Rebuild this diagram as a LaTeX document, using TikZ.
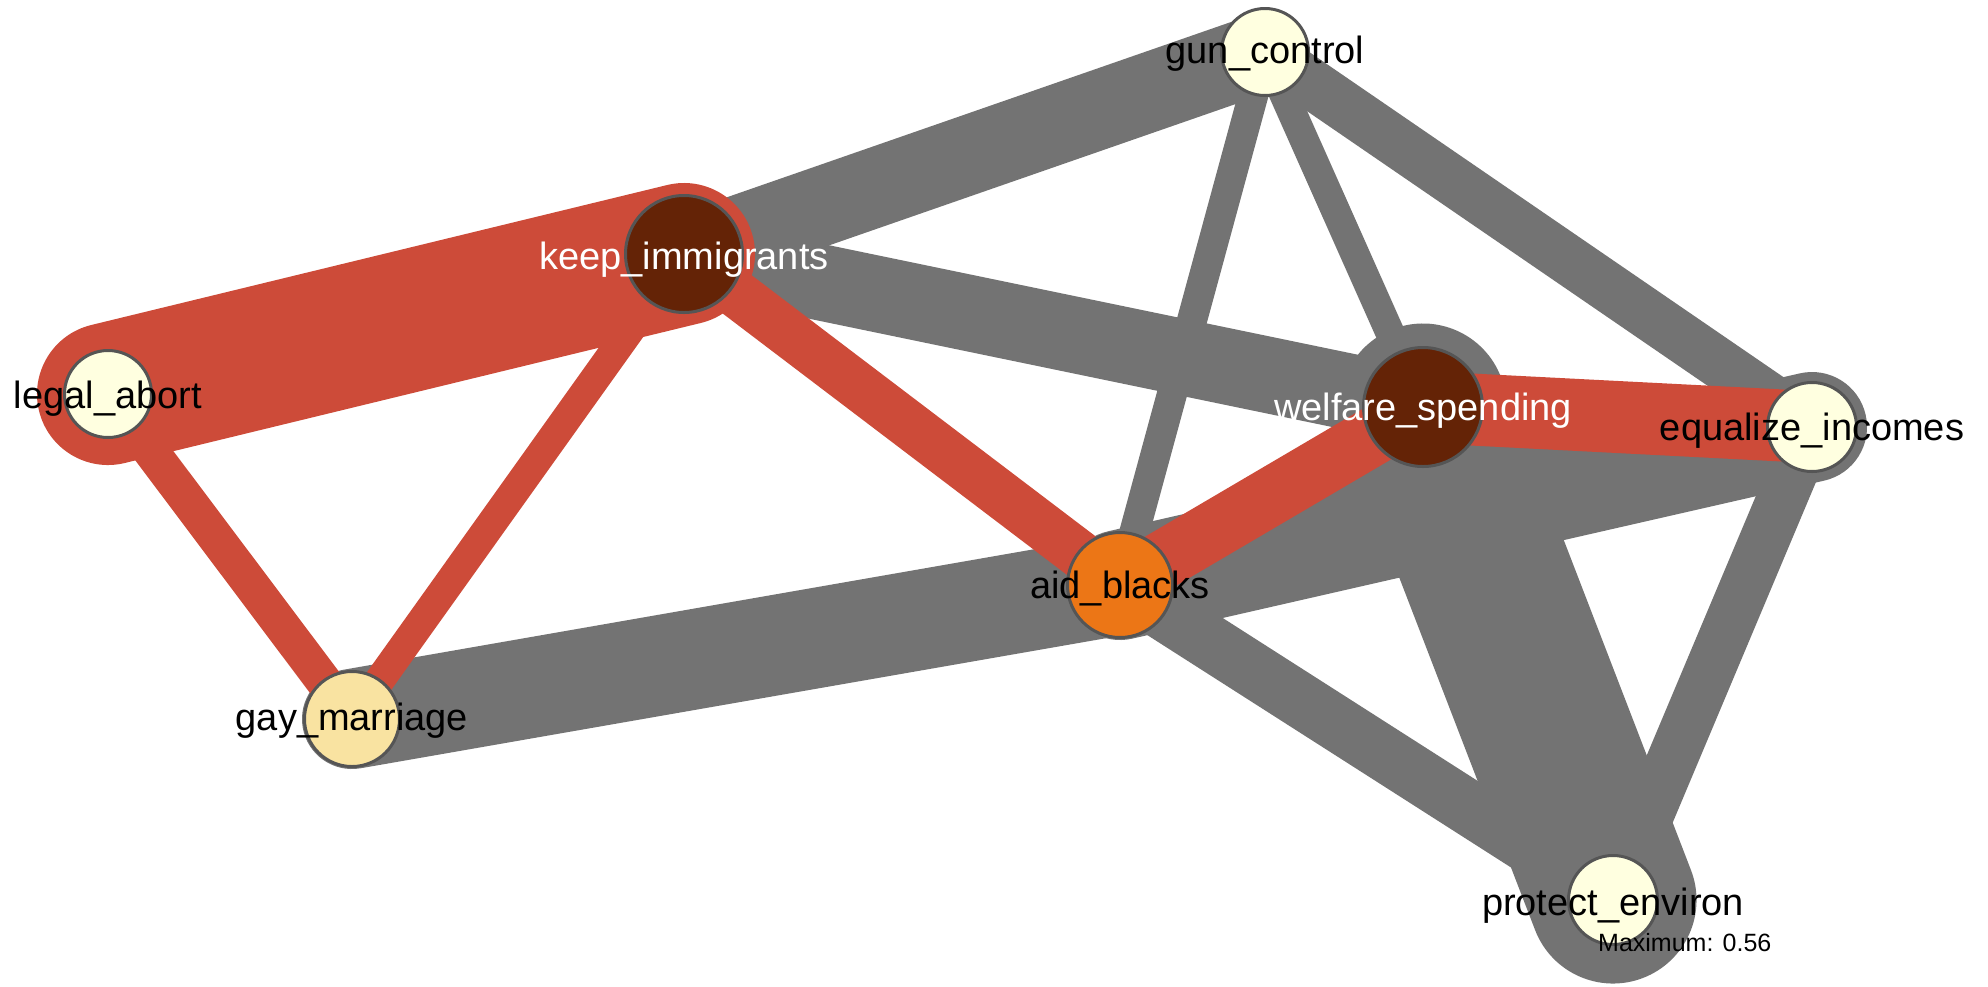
\documentclass[tikz,border=0pt]{standalone}
\usepackage{fontspec}
\setmainfont{Liberation Sans}
\pgfdeclarelayer{edgelayer}
\pgfsetlayers{edgelayer,main}

\definecolor{posedge}{HTML}{CD4B39}
\definecolor{negedge}{HTML}{737373}
\definecolor{nodeborder}{HTML}{555555}
\definecolor{lowfill}{HTML}{FFFFE0}
\definecolor{midfill}{HTML}{F9E3A1}
\definecolor{highfill}{HTML}{EC7616}
\definecolor{topfill}{HTML}{642306}

\begin{document}
\begin{tikzpicture}[x=1pt,y=-1pt,
  vert/.style={circle, draw=nodeborder, line width=3pt, inner sep=0pt},
  lbl/.style={inner sep=0pt, anchor=base, text=black,
              font=\fontsize{38}{40}\selectfont},
  lblw/.style={lbl, text=white},
  negline/.style={draw=negedge, line cap=round},
  posline/.style={draw=posedge, line cap=round},
]
\useasboundingbox (0,0) rectangle (1988,986);

% variables
\node[vert, fill=lowfill,  minimum size=87pt]  (legal)   at (108,394)  {};
\node[vert, fill=topfill,  minimum size=117pt] (keep)    at (684,254)  {};
\node[vert, fill=lowfill,  minimum size=87pt]  (gun)     at (1265,52)  {};
\node[vert, fill=topfill,  minimum size=119pt] (welfare) at (1423,407) {};
\node[vert, fill=lowfill,  minimum size=89pt]  (equal)   at (1812,427) {};
\node[vert, fill=highfill, minimum size=105pt] (aid)     at (1120,585) {};
\node[vert, fill=midfill,  minimum size=95pt]  (gay)     at (352,719)  {};
\node[vert, fill=lowfill,  minimum size=89pt]  (protect) at (1613,900) {};

% edges: width follows the strength of the association
\begin{pgfonlayer}{edgelayer}
  % negative associations
  \draw[negline, line width=79pt]  (keep.center) -- (gun.center);
  \draw[negline, line width=76pt]  (keep.center) -- (welfare.center);
  \draw[negline, line width=30pt]  (gun.center) -- (aid.center);
  \draw[negline, line width=29pt]  (gun.center) -- (welfare.center);
  \draw[negline, line width=50pt]  (gun.center) -- (equal.center);
  \draw[negline, line width=100pt] (gay.center) -- (aid.center);
  \draw[negline, line width=110pt] (aid.center) -- (equal.center);
  \draw[negline, line width=55pt]  (aid.center) -- (protect.center);
  \draw[negline, line width=167pt] (welfare.center) -- (protect.center);
  \draw[negline, line width=50pt]  (equal.center) -- (protect.center);
  % positive associations
  \draw[posline, line width=142pt] (legal.center) -- (keep.center);
  \draw[posline, line width=36pt]  (legal.center) -- (gay.center);
  \draw[posline, line width=30pt]  (keep.center) -- (gay.center);
  \draw[posline, line width=48pt]  (keep.center) -- (aid.center);
  \draw[posline, line width=58pt]  (aid.center) -- (welfare.center);
  \draw[posline, line width=72pt]  (welfare.center) -- (equal.center);
\end{pgfonlayer}

% labels
\node[lbl]  (t-legal)   at ([yshift=-14pt]legal.center)   {legal\_abort};
\node[lblw] (t-keep)    at ([yshift=-15pt]keep.center)    {keep\_immigrants};
\node[lbl]  (t-gun)     at ([yshift=-11pt]gun.center)     {gun\_control};
\node[lblw] (t-welfare) at ([yshift=-13pt]welfare.center) {welfare\_spending};
\node[lbl]  (t-equal)   at ([yshift=-13pt]equal.center)   {equalize\_incomes};
\node[lbl]  (t-aid)     at ([yshift=-13pt]aid.center)     {aid\_blacks};
\node[lbl]  (t-gay)     at ([yshift=-11pt]gay.center)     {gay\_marriage};
\node[lbl]  (t-protect) at ([yshift=-15pt]protect.center) {protect\_environ};

\node[inner sep=0pt, anchor=base west, font=\fontsize{25}{27}\selectfont]
  (maxnote) at (1598,951) {Maximum: 0.56};
\end{tikzpicture}
\end{document}
